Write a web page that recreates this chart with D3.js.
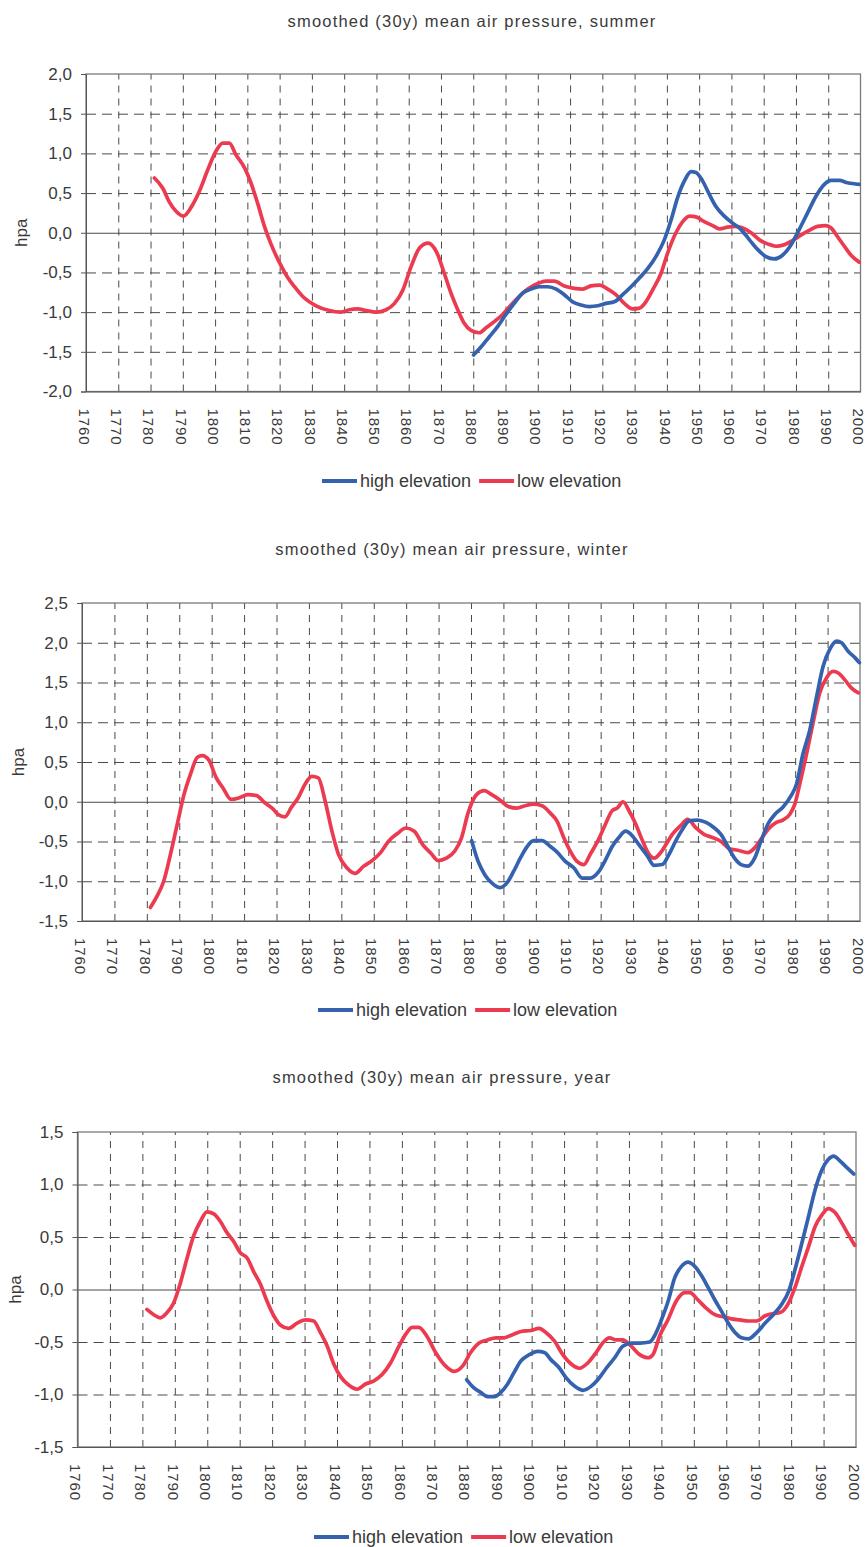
<!DOCTYPE html>
<html><head><meta charset="utf-8">
<script src="https://cdn.jsdelivr.net/npm/d3@7"></script>
<style>
body{margin:0;background:#fff}
text{font-family:"Liberation Sans",Arial,Helvetica,sans-serif;fill:#3a3a3a}
</style>
</head><body>
<svg id="c" width="867" height="1547"></svg>
<script>
// ---------- data ----------
const decades = d3.range(1760, 2001, 10);
const yTicksSummer = [-2, -1.5, -1, -0.5, 0, 0.5, 1, 1.5, 2];
const yTicksWinter = [-1.5, -1, -0.5, 0, 0.5, 1, 1.5, 2, 2.5];
const yTicksYear = [-1.5, -1, -0.5, 0, 0.5, 1, 1.5];
const seriesNames = ["high elevation", "low elevation"];
const titles = [
  "smoothed (30y) mean air pressure, summer",
  "smoothed (30y) mean air pressure, winter",
  "smoothed (30y) mean air pressure, year"
];

const summerHigh = [[1880.1,-1.54],[1882.4,-1.44],[1885,-1.31],[1887.6,-1.18],[1890.1,-1.03],[1892.7,-0.89],[1895.3,-0.76],[1897.9,-0.71],[1900.5,-0.68],[1903.1,-0.68],[1905.7,-0.71],[1908.2,-0.78],[1910.8,-0.87],[1913.4,-0.91],[1916,-0.93],[1918.6,-0.92],[1921.1,-0.89],[1923.7,-0.87],[1926.3,-0.78],[1928.9,-0.68],[1931.5,-0.57],[1934.1,-0.45],[1936.6,-0.3],[1939.2,-0.09],[1941.3,0.16],[1943.3,0.44],[1945.4,0.65],[1947.5,0.77],[1949,0.76],[1951.1,0.65],[1953.2,0.48],[1955.2,0.33],[1957.8,0.21],[1960.4,0.12],[1963,0.04],[1965.6,-0.09],[1968.1,-0.21],[1970.7,-0.3],[1973.3,-0.33],[1975.9,-0.28],[1978.5,-0.15],[1981,0.04],[1983.6,0.25],[1986.2,0.46],[1988.8,0.61],[1990.9,0.66],[1993.4,0.66],[1996,0.63],[1999.6,0.61]];
const summerLow = [[1781.2,0.69],[1783.8,0.56],[1785.8,0.39],[1787.9,0.27],[1790.2,0.21],[1793,0.35],[1795.1,0.52],[1797.7,0.79],[1800.3,1.03],[1802.4,1.13],[1804.4,1.13],[1806.5,0.98],[1809.1,0.82],[1811.1,0.63],[1813.2,0.37],[1815.3,0.08],[1817.4,-0.15],[1820,-0.38],[1822.6,-0.57],[1824.6,-0.68],[1827.1,-0.8],[1831.3,-0.92],[1835.4,-0.98],[1839,-1.0],[1841.6,-0.97],[1844.2,-0.96],[1846.8,-0.98],[1849.9,-1.0],[1853,-0.97],[1855.6,-0.89],[1858.2,-0.72],[1860.8,-0.42],[1863.4,-0.19],[1866,-0.13],[1868.6,-0.24],[1871,-0.51],[1873.1,-0.76],[1875.2,-0.97],[1877.2,-1.14],[1879.3,-1.23],[1881.9,-1.26],[1883.9,-1.2],[1886.5,-1.12],[1889.1,-1.03],[1891.7,-0.91],[1894.3,-0.8],[1896.9,-0.71],[1900,-0.64],[1902.5,-0.61],[1905.1,-0.61],[1908.2,-0.67],[1911.3,-0.7],[1913.9,-0.71],[1916.5,-0.67],[1919.1,-0.66],[1921.7,-0.71],[1924.2,-0.78],[1926.8,-0.89],[1929.4,-0.96],[1931.5,-0.95],[1933.5,-0.87],[1935.6,-0.72],[1938.2,-0.51],[1940.2,-0.26],[1942.8,0.0],[1944.9,0.14],[1947,0.21],[1949,0.2],[1951.6,0.14],[1954.2,0.09],[1956.3,0.05],[1958.8,0.07],[1961.4,0.08],[1963.5,0.06],[1966.1,0.0],[1968.7,-0.09],[1971.2,-0.14],[1973.8,-0.17],[1976.4,-0.15],[1978.9,-0.1],[1981.5,-0.03],[1984.1,0.03],[1986.7,0.08],[1989.3,0.09],[1990.9,0.06],[1992.9,-0.05],[1995,-0.17],[1997,-0.28],[1999.6,-0.37]];

const winterHigh = [[1880.2,-0.49],[1882.2,-0.75],[1884.3,-0.92],[1886.4,-1.02],[1889,-1.08],[1891.1,-1.02],[1893.1,-0.88],[1895.2,-0.71],[1897.2,-0.57],[1899.3,-0.49],[1901.9,-0.49],[1904.4,-0.56],[1906.5,-0.63],[1909.1,-0.75],[1911.7,-0.83],[1914.3,-0.96],[1916.8,-0.96],[1919.4,-0.88],[1921.5,-0.73],[1923.6,-0.56],[1925.6,-0.45],[1927.7,-0.37],[1929.8,-0.43],[1931.8,-0.54],[1934.4,-0.68],[1936.5,-0.8],[1939,-0.79],[1941.1,-0.66],[1943.2,-0.49],[1945.2,-0.35],[1947.3,-0.24],[1949.9,-0.23],[1952.5,-0.26],[1955.1,-0.33],[1957.1,-0.41],[1959.2,-0.56],[1961.3,-0.71],[1963.3,-0.79],[1965.4,-0.81],[1967.5,-0.71],[1969.5,-0.49],[1971.6,-0.28],[1973.7,-0.16],[1976.2,-0.07],[1978.8,0.08],[1980.4,0.22],[1982.4,0.6],[1984.5,0.9],[1986.6,1.32],[1988.6,1.7],[1990.7,1.92],[1992.8,2.02],[1994.3,2.0],[1996.4,1.89],[1998.5,1.81],[1999.8,1.75]];
const winterLow = [[1781.1,-1.33],[1783.1,-1.19],[1785.2,-1.0],[1787.3,-0.66],[1789.4,-0.28],[1791.4,0.08],[1793.5,0.35],[1795.6,0.56],[1797.1,0.58],[1799.2,0.52],[1801.3,0.31],[1803.4,0.18],[1806,0.03],[1808.5,0.05],[1811.1,0.09],[1813.7,0.08],[1816.3,-0.01],[1818.9,-0.09],[1820.5,-0.16],[1822.6,-0.19],[1824.6,-0.07],[1826.7,0.05],[1828.8,0.22],[1830.9,0.32],[1832.9,0.3],[1835,0.01],[1837.1,-0.37],[1839.1,-0.66],[1841.7,-0.83],[1844.3,-0.9],[1846.9,-0.81],[1849.5,-0.74],[1852.1,-0.64],[1854.7,-0.49],[1857.3,-0.4],[1859.9,-0.33],[1862.5,-0.37],[1865.1,-0.54],[1867.7,-0.65],[1869.9,-0.74],[1872.4,-0.71],[1875,-0.62],[1877.1,-0.45],[1879.1,-0.14],[1881.7,0.09],[1884.1,0.14],[1886.4,0.09],[1889,0.02],[1891.5,-0.06],[1894.1,-0.08],[1896.7,-0.05],[1899.3,-0.03],[1901.9,-0.05],[1904.4,-0.14],[1906.5,-0.24],[1908.6,-0.45],[1910.6,-0.62],[1912.7,-0.75],[1914.8,-0.79],[1916.8,-0.66],[1919.4,-0.47],[1921.5,-0.28],[1923.6,-0.11],[1925.1,-0.08],[1926.9,0.0],[1928.7,-0.11],[1930.8,-0.28],[1932.9,-0.49],[1934.9,-0.66],[1936.5,-0.71],[1938.5,-0.64],[1940.1,-0.54],[1942.1,-0.41],[1944.7,-0.3],[1946.8,-0.22],[1949.4,-0.33],[1951.9,-0.41],[1954.5,-0.45],[1957.1,-0.5],[1959.7,-0.59],[1962.3,-0.61],[1965.4,-0.64],[1967.5,-0.58],[1969.5,-0.47],[1971.6,-0.35],[1974.2,-0.26],[1976.2,-0.23],[1978.3,-0.16],[1979.9,-0.03],[1981.4,0.22],[1983.5,0.6],[1985.5,0.99],[1987.6,1.37],[1989.7,1.56],[1991.7,1.64],[1993.3,1.62],[1995.4,1.53],[1997.4,1.43],[1999.5,1.37]];

const yearHigh = [[1880,-0.86],[1882.3,-0.94],[1884.3,-0.98],[1886.4,-1.02],[1888.5,-1.02],[1890.5,-0.98],[1892.6,-0.9],[1894.6,-0.79],[1896.7,-0.68],[1899.3,-0.62],[1901.9,-0.59],[1903.9,-0.6],[1906,-0.67],[1908.6,-0.75],[1910.6,-0.84],[1913.2,-0.92],[1915.8,-0.96],[1918.4,-0.92],[1920.4,-0.86],[1923,-0.75],[1925.6,-0.65],[1928.1,-0.54],[1930.7,-0.51],[1933.3,-0.51],[1936.4,-0.5],[1937.9,-0.44],[1940,-0.29],[1942.1,-0.11],[1944.1,0.11],[1946.2,0.22],[1948.2,0.26],[1950.3,0.22],[1952.4,0.13],[1954.4,0.02],[1956.5,-0.1],[1958.6,-0.21],[1960.6,-0.32],[1962.7,-0.41],[1964.7,-0.46],[1966.8,-0.47],[1969.4,-0.41],[1972,-0.32],[1974.5,-0.24],[1977.1,-0.14],[1979.2,-0.02],[1981.2,0.19],[1983.3,0.44],[1985.4,0.7],[1987.4,0.95],[1989.5,1.14],[1991.5,1.24],[1993.1,1.27],[1995.2,1.22],[1997.2,1.16],[1999.3,1.1]];
const yearLow = [[1781.4,-0.19],[1783.5,-0.24],[1785.5,-0.27],[1787.6,-0.22],[1789.6,-0.13],[1791.7,0.06],[1793.7,0.29],[1795.8,0.51],[1797.9,0.65],[1799.9,0.74],[1802,0.72],[1804,0.65],[1806.1,0.54],[1808.1,0.46],[1810.2,0.35],[1812.3,0.3],[1814.3,0.17],[1816.4,0.05],[1818.4,-0.11],[1820.5,-0.25],[1822.6,-0.34],[1825.1,-0.37],[1827.7,-0.32],[1830.3,-0.29],[1832.8,-0.3],[1834.9,-0.41],[1837,-0.54],[1839,-0.71],[1841.1,-0.83],[1843.6,-0.91],[1846.2,-0.95],[1848.8,-0.9],[1851.4,-0.87],[1853.9,-0.81],[1856.5,-0.7],[1859.1,-0.54],[1861.1,-0.43],[1863.2,-0.36],[1865.2,-0.36],[1867.8,-0.45],[1870.4,-0.6],[1873.5,-0.73],[1876.1,-0.78],[1878.7,-0.73],[1881.2,-0.6],[1883.8,-0.51],[1886.4,-0.48],[1889,-0.46],[1891.5,-0.46],[1894.1,-0.43],[1896.7,-0.4],[1899.8,-0.39],[1902.3,-0.37],[1904.4,-0.41],[1907,-0.49],[1909.6,-0.62],[1912.2,-0.71],[1914.7,-0.75],[1917.3,-0.7],[1919.9,-0.6],[1921.9,-0.51],[1924,-0.46],[1926.1,-0.48],[1928.1,-0.48],[1930.7,-0.54],[1933.3,-0.62],[1935.9,-0.65],[1937.4,-0.62],[1939.5,-0.44],[1942,-0.29],[1944.6,-0.11],[1947.2,-0.03],[1948.8,-0.03],[1951.3,-0.1],[1953.9,-0.18],[1956.5,-0.24],[1959.1,-0.26],[1961.6,-0.28],[1964.2,-0.29],[1966.8,-0.3],[1969.4,-0.3],[1972,-0.25],[1974.5,-0.23],[1976.6,-0.22],[1979.2,-0.13],[1981.2,0.02],[1983.3,0.22],[1985.4,0.41],[1987.4,0.6],[1989.5,0.71],[1991.5,0.77],[1993.6,0.73],[1995.7,0.63],[1997.7,0.52],[1999.6,0.42]];

// ---------- drawing ----------
const BLUE = "#3462ae", RED = "#ec3b50";
const svg = d3.select("#c");
const loc = d3.formatLocale({decimal: ",", thousands: ".", grouping: [3], currency: ["", ""], minus: "-"});
const fmt = loc.format(".1f");

function drawChart(cfg) {
  const g = svg.append("g");
  const x = d3.scaleLinear().domain([1760, 2000]).range([cfg.left, cfg.right]);
  const y = d3.scaleLinear().domain([cfg.yTicks[0], cfg.yTicks[cfg.yTicks.length - 1]]).range([cfg.bottom, cfg.top]);
  const w = cfg.right - cfg.left, h = cfg.bottom - cfg.top;

  // title
  g.append("text").attr("x", cfg.titleX).attr("y", cfg.titleY)
    .attr("text-anchor", "middle").style("font-size", "16.5px").style("letter-spacing", "1.2px")
    .text(cfg.title);

  // horizontal grid via axis
  const hg = g.append("g").attr("transform", `translate(${cfg.left},0)`)
    .call(d3.axisLeft(y).tickValues(cfg.yTicks.slice(1, -1)).tickSize(-w).tickFormat(""));
  hg.select(".domain").remove();
  hg.selectAll(".tick line").attr("stroke", "#4a4a4a").attr("stroke-width", 1)
    .attr("stroke-dasharray", d => d === 0 ? null : "10,6");

  // vertical grid via axis
  const vg = g.append("g").attr("transform", `translate(0,${cfg.bottom})`)
    .call(d3.axisBottom(x).tickValues(decades.slice(1, -1)).tickSize(-h).tickFormat(""));
  vg.select(".domain").remove();
  vg.selectAll(".tick line").attr("stroke", "#4a4a4a").attr("stroke-width", 1).attr("stroke-dasharray", "7,6");

  // border
  g.append("rect").attr("x", cfg.left).attr("y", cfg.top).attr("width", w).attr("height", h)
    .attr("fill", "none").attr("stroke", "#7a7a7a").attr("stroke-width", 1.3);

  // y axis labels
  const ya = g.append("g").attr("transform", `translate(${cfg.left},0)`)
    .call(d3.axisLeft(y).tickValues(cfg.yTicks).tickSize(5).tickPadding(9).tickFormat(fmt));
  ya.select(".domain").attr("stroke", "#555");
  ya.selectAll(".tick line").attr("stroke", "#555");
  ya.selectAll(".tick text").style("font-size", "17px").style("font-family", "'Liberation Sans',Arial,sans-serif").attr("fill", "#3a3a3a");

  // x axis labels (rotated)
  const xa = g.append("g").attr("transform", `translate(0,${cfg.bottom})`)
    .call(d3.axisBottom(x).tickValues(decades).tickSize(0).tickFormat(d3.format("d")));
  xa.select(".domain").attr("stroke", "#555");
  xa.selectAll(".tick text")
    .attr("transform", "rotate(90)").attr("x", 17).attr("y", 0).attr("dy", "0.52em")
    .attr("text-anchor", "start")
    .style("font-size", "15px").style("letter-spacing", "0.9px")
    .style("font-family", "'Liberation Sans',Arial,sans-serif").attr("fill", "#3a3a3a");

  // y axis title
  g.append("text").attr("transform", `translate(${cfg.hpaX},${(cfg.top + cfg.bottom) / 2}) rotate(-90)`)
    .attr("text-anchor", "middle").attr("dy", "0.35em").style("font-size", "17px").text("hpa");

  // lines
  const line = d3.line().x(d => x(d[0])).y(d => y(d[1])).curve(d3.curveMonotoneX);
  [[cfg.low, RED], [cfg.high, BLUE]].forEach(([data, col]) => {
    g.append("path").datum(data).attr("d", line).attr("fill", "none")
      .attr("stroke", col).attr("stroke-width", 3.7).attr("stroke-linejoin", "round").attr("stroke-linecap", "round");
  });

  // legend
  const lg = g.append("g").attr("transform", `translate(${cfg.legendX},${cfg.legendY})`);
  let cx = 0;
  [[seriesNames[0], BLUE], [seriesNames[1], RED]].forEach(([name, col]) => {
    lg.append("line").attr("x1", cx).attr("x2", cx + 35).attr("y1", 0).attr("y2", 0)
      .attr("stroke", col).attr("stroke-width", 4);
    const t = lg.append("text").attr("x", cx + 38).attr("y", 0).attr("dy", "0.35em")
      .style("font-size", "18px").text(name);
    cx += 38 + t.node().getComputedTextLength() + 8;
  });
}

drawChart({title: titles[0], titleX: 472, titleY: 27, left: 86, right: 860.5, top: 74, bottom: 391.5,
  yTicks: yTicksSummer, high: summerHigh, low: summerLow, hpaX: 21, legendX: 322, legendY: 481});
drawChart({title: titles[1], titleX: 452, titleY: 555, left: 82, right: 860, top: 603, bottom: 921,
  yTicks: yTicksWinter, high: winterHigh, low: winterLow, hpaX: 18, legendX: 318, legendY: 1010});
drawChart({title: titles[2], titleX: 442, titleY: 1083, left: 77.5, right: 856, top: 1132, bottom: 1447,
  yTicks: yTicksYear, high: yearHigh, low: yearLow, hpaX: 15, legendX: 314, legendY: 1537});
</script>
</body></html>
